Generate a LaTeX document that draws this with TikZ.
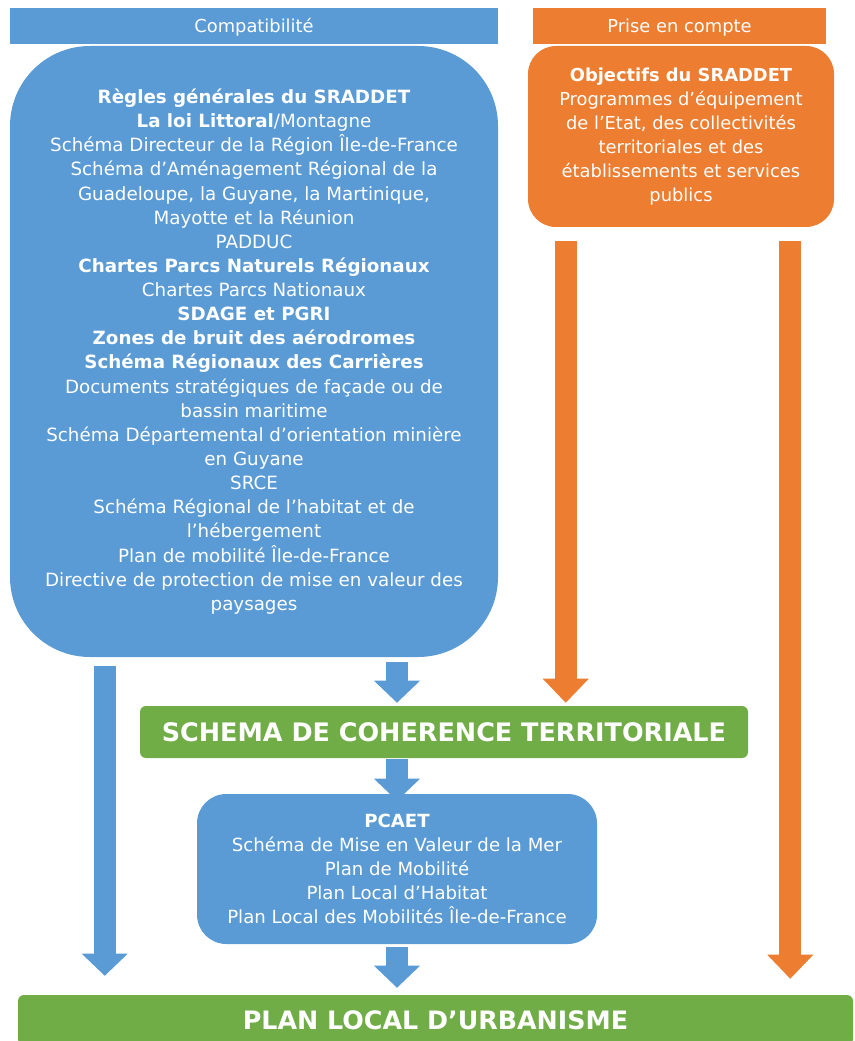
\documentclass[tikz,border=0pt]{standalone}
\usepackage{fontspec}
\setmainfont{DejaVu Sans}
\usetikzlibrary{arrows.meta}
\usetikzlibrary{calc}
\usepackage{xcolor}

\definecolor{planblue}{HTML}{5B9BD5}
\definecolor{planorange}{HTML}{ED7D31}
\definecolor{plangreen}{HTML}{70AD47}

\tikzset{
  hdr/.style={inner sep=0pt, text=white, font=\fontsize{13.4}{18}\selectfont},
  blob/.style={inner sep=0pt, text=white, align=center, font=\fontsize{13.4}{18.1}\selectfont},
  title/.style={fill=plangreen, rounded corners=4.5pt, inner sep=0pt, text=white, font=\fontsize{19}{22}\selectfont\bfseries},
  barrow/.style={planblue, line width=16.5pt, -{Triangle[width=34.5pt,length=16.5pt,line width=0pt]}},
  oarrow/.style={planorange, line width=16.5pt, -{Triangle[width=34.5pt,length=18pt,line width=0pt]}},
}

\begin{document}
\begin{tikzpicture}[x=0.75pt,y=-0.75pt]
      \useasboundingbox (0,0) rectangle (855,1041);

      % Headers
      \node[hdr, fill=planblue, minimum width=366pt, minimum height=27pt, text depth=0pt, text height=10pt] (compat) at (254,26) {Compatibilité};
      \node[hdr, fill=planorange, minimum width=219.75pt, minimum height=27pt, text depth=0pt, text height=10pt] (prise) at (679.5,26) {Prise en compte};

      % Compatibility box
      \node[blob, fill=planblue, rounded corners=60pt, minimum width=366pt, minimum height=458.25pt, font=\fontsize{13.7}{18.1}\selectfont] (big) at (254,351.5) {%
        \textbf{Règles générales du SRADDET}\\
        \textbf{La loi Littoral}/Montagne\\
        Schéma Directeur de la Région Île-de-France\\
        Schéma d’Aménagement Régional de la\\
        Guadeloupe, la Guyane, la Martinique,\\
        Mayotte et la Réunion\\
        PADDUC\\
        \textbf{Chartes Parcs Naturels Régionaux}\\
        Chartes Parcs Nationaux\\
        \textbf{SDAGE et PGRI}\\
        \textbf{Zones de bruit des aérodromes}\\
        \textbf{Schéma Régionaux des Carrières}\\
        Documents stratégiques de façade ou de\\
        bassin maritime\\
        Schéma Départemental d’orientation minière\\
        en Guyane\\
        SRCE\\
        Schéma Régional de l’habitat et de\\
        l’hébergement\\
        Plan de mobilité Île-de-France\\
        Directive de protection de mise en valeur des\\
        paysages};

      % Prise en compte box
      \node[blob, fill=planorange, rounded corners=21pt, minimum width=229.5pt, minimum height=135.75pt] (obj) at (681,136.5) {%
        \textbf{Objectifs du SRADDET}\\
        Programmes d’équipement\\
        de l’Etat, des collectivités\\
        territoriales et des\\
        établissements et services\\
        publics};

      % SCoT, PCAET, PLU
      \node[title, minimum width=456pt, minimum height=39pt, font=\fontsize{19.1}{22}\selectfont\bfseries] (scot) at (444,732) {SCHEMA DE COHERENCE TERRITORIALE};
      \node[blob, fill=planblue, rounded corners=22pt, minimum width=300pt, minimum height=112.5pt, font=\fontsize{13.6}{18.1}\selectfont] (pcaet) at (397,869) {%
        \textbf{PCAET}\\
        Schéma de Mise en Valeur de la Mer\\
        Plan de Mobilité\\
        Plan Local d’Habitat\\
        Plan Local des Mobilités Île-de-France};
      \node[title, minimum width=626.25pt, minimum height=37.5pt] (plu) at (435.5,1020) {PLAN LOCAL D’URBANISME};

      % Arrows
      \coordinate (bl) at ($(big.south west)+(95,0)$);
      \coordinate (oa) at ($(obj.south west)+(38,0)$);
      \coordinate (ob) at ($(obj.south east)+(-44,0)$);

      \draw[barrow, shorten <=3.75pt, shorten >=2.25pt] (big.south -| pcaet.north) -- (scot.north -| pcaet.north);
      \draw[barrow, shorten <=0.75pt, shorten >=-5.25pt] (scot.south -| pcaet.north) -- (pcaet.north);
      \draw[barrow, shorten <=2.25pt, shorten >=5.25pt] (pcaet.south) -- (plu.north -| pcaet.south);
      \draw[barrow, shorten <=6.75pt, shorten >=14.25pt] (bl) -- (bl |- plu.north);
      \draw[oarrow, shorten <=10.5pt, shorten >=2.25pt] (oa) -- (oa |- scot.north);
      \draw[oarrow, shorten <=10.5pt, shorten >=12pt] (ob) -- (ob |- plu.north);
\end{tikzpicture}
\end{document}
